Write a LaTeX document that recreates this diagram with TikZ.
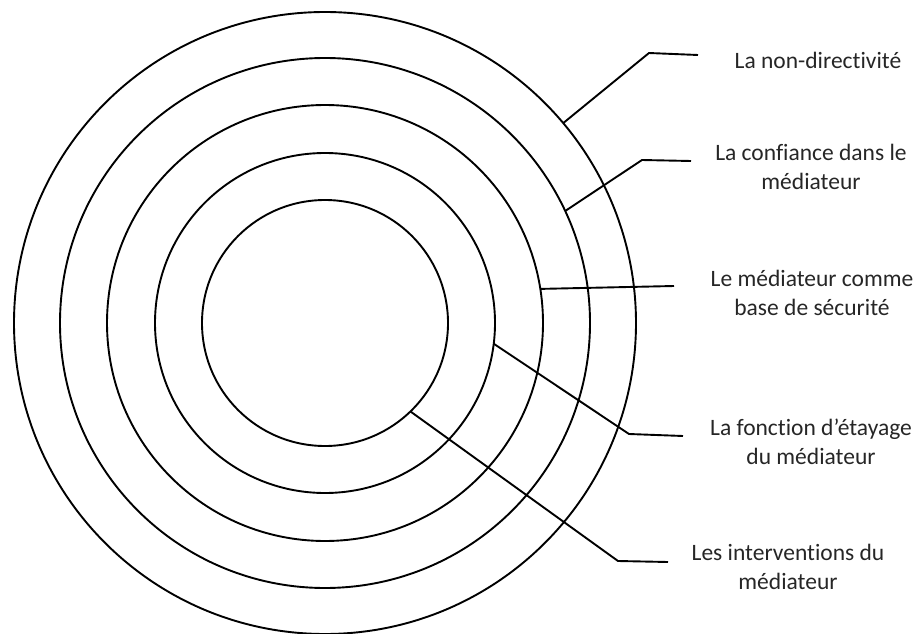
\documentclass[tikz,border=0pt]{standalone}
\usepackage{fontspec}
\setmainfont{Carlito}[Ligatures={NoCommon}]
\definecolor{txtgray}{RGB}{38,38,38}
\begin{document}
\begin{tikzpicture}[x=1pt,y=-1pt,
  ring/.style={circle,draw=black,line width=1.9pt,inner sep=0pt,outer sep=0pt,minimum size=#1},
  lead/.style={draw=black,line width=1.9pt,line join=miter},
  lbl/.style={text=txtgray,align=center,inner sep=0pt,font=\fontsize{23.5}{29}\selectfont}]
\useasboundingbox (0,0) rectangle (919,634);
\node[ring=622pt] (c1) at (325,323) {};
\node[ring=530pt] (c2) at (325,323) {};
\node[ring=436pt] (c3) at (325,323) {};
\node[ring=340pt] (c4) at (325,323) {};
\node[ring=246pt] (c5) at (325,323) {};
% labels
\node[lbl] (t1) at (818,60) {La non-directivité};
\node[lbl] (t2) at (811,167) {La confiance dans le\\médiateur};
\node[lbl] (t3) at (812,293) {Le médiateur comme\\base de sécurité};
\node[lbl] (t4) at (811,442) {La fonction d’étayage\\du médiateur};
\node[lbl] (t5) at (788,567) {Les interventions du\\médiateur};
% leader coordinates
\coordinate (b1) at (649,53);  \coordinate (e1) at (698,55);
\coordinate (b2) at (642,160); \coordinate (e2) at (691,161);
\coordinate (e3) at (674,286);
\coordinate (b4) at (629,434); \coordinate (e4) at (683,436);
\coordinate (b5) at (618,561); \coordinate (e5) at (668,562);
\draw[lead] (c1.40.6) -- (b1) -- (e1);
\draw[lead] (c2.25.3) -- (b2) -- (e2);
\draw[lead] (c3.9.7) -- (e3);
\draw[lead] (c4.-7.5) -- (b4) -- (e4);
\draw[lead] (c5.-46.3) -- (b5) -- (e5);
\end{tikzpicture}
\end{document}
